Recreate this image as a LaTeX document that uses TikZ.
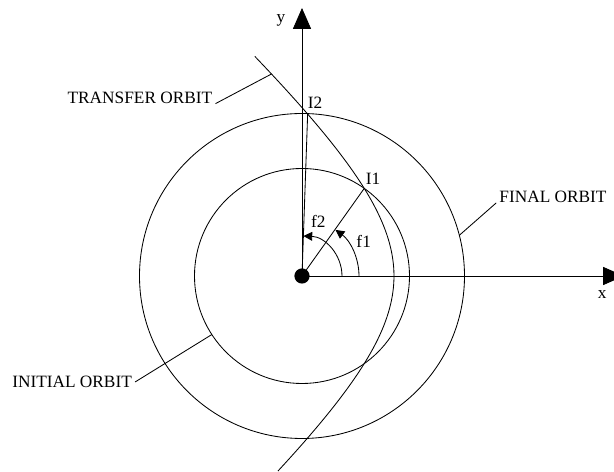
\documentclass[tikz,border=0pt]{standalone}
\usepackage{fontspec}
\setmainfont{Liberation Serif}
\usetikzlibrary{arrows.meta}
\begin{document}
\begin{tikzpicture}[x=0.025cm, y=0.025cm, line width=0.6pt,
          every node/.style={font=\fontsize{12.3}{14}\selectfont, inner sep=0pt},
          lbl/.style={inner xsep=2pt}]
  \useasboundingbox (-302,-196) rectangle (312,276);
  % orbit radii
  \def\rin{107.5}
  \def\rout{162.5}
  \node[circle, fill, minimum size=0.38cm] (c) at (0,0) {};
  \draw (c.center) circle[radius=\rin];
  \draw (c.center) circle[radius=\rout];
  % transfer orbit
  \draw plot[domain=-1.195:1.296, samples=80, variable=\t]
    ({236.5-144.5*cosh(\t)}, {130*sinh(\t)});
  \coordinate (i1) at (54.6:\rin);
  \coordinate (i2) at (88:\rout);
  \coordinate (tp) at (-30.5,202);
  \coordinate (fp) at (14.5:\rout);
  \coordinate (ip) at (213:\rin);
  \coordinate (ytop) at (0,268);
  \coordinate (xend) at (322,0);
  % axes
  \draw[-{Triangle[length=0.52cm, width=0.45cm]}] (c.center) -- (ytop);
  \draw[-{Triangle[length=0.52cm, width=0.45cm]}] (c.center) -- (xend);
  \draw (c.center) -- (i1);
  \draw (c.center) -- (i2);
  % angles
  \draw[-{Triangle[length=0.22cm, width=0.22cm]}]
    (c.center) ++(57,0) arc[start angle=0, end angle=54, radius=57];
  \draw[-{Triangle[length=0.22cm, width=0.22cm]}]
    (c.center) ++(40,0) arc[start angle=0, end angle=88, radius=40];
  \node (ylbl) at (-21,256) {y};
  \node (xlbl) at (300.3,-19) {x};
  \node (i1lbl) at (71,97) {I1};
  \node (i2lbl) at (13,173.5) {I2};
  \node (f1lbl) at (61.7,34.3) {f1};
  \node (f2lbl) at (16.3,55) {f2};
  % orbit labels
  \node[lbl, anchor=east] (tr) at (-86.5,178) {TRANSFER ORBIT};
  \node[lbl, anchor=west] (fo) at (194.2,78.7) {FINAL ORBIT};
  \node[lbl, anchor=east] (io) at (-166.9,-106) {INITIAL ORBIT};
  \draw (tr.base east) -- (tp);
  \draw (fo.base west) -- (fp);
  \draw (io.east) -- (ip);
\end{tikzpicture}
\end{document}
